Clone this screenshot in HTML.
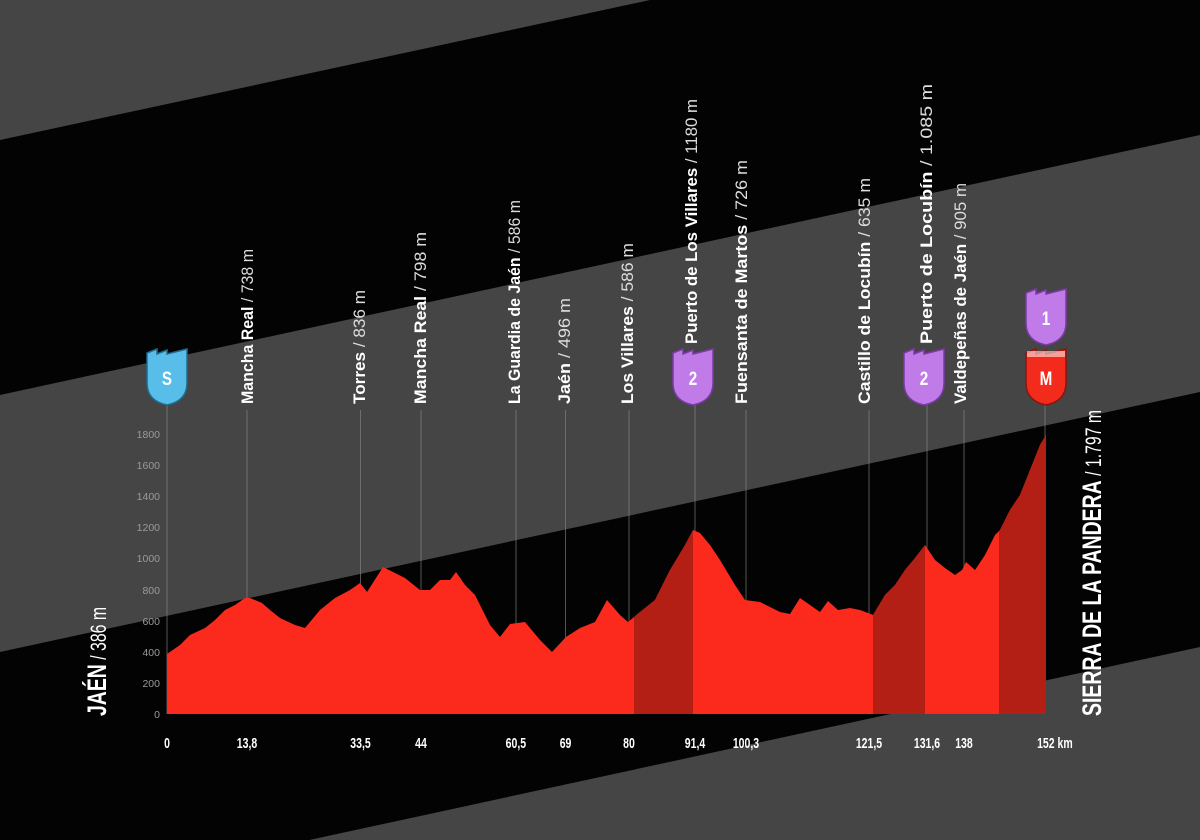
<!DOCTYPE html>
<html><head><meta charset="utf-8"><style>
html,body{margin:0;padding:0;background:#000;width:1200px;height:840px;overflow:hidden;}
svg{display:block}
text{font-family:"Liberation Sans",sans-serif;}
</style></head><body>
<svg width="1200" height="840" viewBox="0 0 1200 840" xmlns="http://www.w3.org/2000/svg">
<rect width="1200" height="840" fill="#030303"/>
<polygon points="0,0 650,0 0,140" fill="#454545"/>
<polygon points="0,395 1200,135 1200,392 0,652" fill="#454545"/>
<polygon points="0,907 1200,647 1200,840 0,840" fill="#454545"/>

<g stroke="#8a8a8a" stroke-width="1" opacity="0.6">
<line x1="167" y1="405" x2="167" y2="714"/>
<line x1="247" y1="410" x2="247" y2="714"/>
<line x1="360.5" y1="410" x2="360.5" y2="714"/>
<line x1="421" y1="410" x2="421" y2="714"/>
<line x1="516" y1="410" x2="516" y2="714"/>
<line x1="565.5" y1="410" x2="565.5" y2="714"/>
<line x1="629" y1="410" x2="629" y2="714"/>
<line x1="695" y1="405" x2="695" y2="714"/>
<line x1="746" y1="410" x2="746" y2="714"/>
<line x1="869" y1="410" x2="869" y2="714"/>
<line x1="927" y1="405" x2="927" y2="714"/>
<line x1="964" y1="410" x2="964" y2="714"/>
<line x1="1045" y1="405" x2="1045" y2="714"/>
</g>

<defs>
<clipPath id="prof">
<polygon points="167,714 167,654 180,645 190,635 205,628 215,620 225,610 235,605 245,598 250,598 262,603 270,610 280,618 295,625 305,628 320,610 335,598 350,590 360,583 367,592 383,567 395,573 405,578 420,590 430,590 440,580 450,580 456,572 465,585 475,595 490,625 500,637 510,624 525,622 540,640 552,652 566,637 580,628 595,622 607,600 620,615 628,622 640,612 655,600 670,570 685,545 693,530 700,533 710,545 720,560 735,585 745,600 760,602 770,607 780,612 790,614 800,598 810,605 820,612 828,601 838,610 850,608 860,610 868,613 873,615 885,595 895,585 905,570 915,558 925,545 935,560 945,568 955,575 962,570 966,562 975,570 985,555 995,535 1000,530 1010,510 1020,495 1030,470 1040,445 1046,435 1046,714"/>
</clipPath>
</defs>
<g clip-path="url(#prof)">
<rect x="160" y="420" width="900" height="300" fill="#fb2a1c"/>
<rect x="634" y="420" width="59" height="300" fill="#b31f14"/>
<rect x="873" y="420" width="52" height="300" fill="#b31f14"/>
<rect x="999" y="420" width="47" height="300" fill="#b31f14"/>
</g>

<g font-size="10.5" fill="#9a9a9a" text-anchor="end">
<text x="160" y="718">0</text>
<text x="160" y="687">200</text>
<text x="160" y="656">400</text>
<text x="160" y="625">600</text>
<text x="160" y="594">800</text>
<text x="160" y="562">1000</text>
<text x="160" y="531">1200</text>
<text x="160" y="500">1400</text>
<text x="160" y="469">1600</text>
<text x="160" y="438">1800</text>
</g>

<g font-size="15" font-weight="bold" fill="#fff" text-anchor="middle">
<g transform="scale(0.7,1)">
<text x="238.6" y="748">0</text>
<text x="352.9" y="748">13,8</text>
<text x="515" y="748">33,5</text>
<text x="601.4" y="748">44</text>
<text x="737" y="748">60,5</text>
<text x="807.9" y="748">69</text>
<text x="898.6" y="748">80</text>
<text x="992.9" y="748">91,4</text>
<text x="1065.7" y="748">100,3</text>
<text x="1241.4" y="748">121,5</text>
<text x="1324.3" y="748">131,6</text>
<text x="1377.1" y="748">138</text>
<text x="1507" y="748">152 km</text>
</g>
</g>

<g fill="#fff">
<text transform="translate(106,716) rotate(-90) scale(0.72,1)" font-size="27" font-weight="bold">JAÉN<tspan font-weight="normal" font-size="22"> / 386 m</tspan></text>
<text transform="translate(1101,716) rotate(-90) scale(0.72,1)" font-size="27" font-weight="bold">SIERRA DE LA PANDERA<tspan font-weight="normal" font-size="22"> / 1.797 m</tspan></text>
</g>

<g font-size="16.5" font-weight="bold" fill="#fff">
<text transform="translate(253,404) rotate(-90)" textLength="155" lengthAdjust="spacingAndGlyphs">Mancha Real<tspan font-weight="normal" fill="#ddd"> / 738 m</tspan></text>
<text transform="translate(365,404) rotate(-90)" textLength="114" lengthAdjust="spacingAndGlyphs">Torres<tspan font-weight="normal" fill="#ddd"> / 836 m</tspan></text>
<text transform="translate(426,404) rotate(-90)" textLength="172" lengthAdjust="spacingAndGlyphs">Mancha Real<tspan font-weight="normal" fill="#ddd"> / 798 m</tspan></text>
<text transform="translate(520,404) rotate(-90)" textLength="204" lengthAdjust="spacingAndGlyphs">La Guardia de Jaén<tspan font-weight="normal" fill="#ddd"> / 586 m</tspan></text>
<text transform="translate(570,404) rotate(-90)" textLength="106" lengthAdjust="spacingAndGlyphs">Jaén<tspan font-weight="normal" fill="#ddd"> / 496 m</tspan></text>
<text transform="translate(633,404) rotate(-90)" textLength="161" lengthAdjust="spacingAndGlyphs">Los Villares<tspan font-weight="normal" fill="#ddd"> / 586 m</tspan></text>
<text transform="translate(697,344) rotate(-90)" textLength="245" lengthAdjust="spacingAndGlyphs">Puerto de Los Villares<tspan font-weight="normal" fill="#ddd"> / 1180 m</tspan></text>
<text transform="translate(747,404) rotate(-90)" textLength="244" lengthAdjust="spacingAndGlyphs">Fuensanta de Martos<tspan font-weight="normal" fill="#ddd"> / 726 m</tspan></text>
<text transform="translate(870,404) rotate(-90)" textLength="226" lengthAdjust="spacingAndGlyphs">Castillo de Locubín<tspan font-weight="normal" fill="#ddd"> / 635 m</tspan></text>
<text transform="translate(932,344) rotate(-90)" textLength="260" lengthAdjust="spacingAndGlyphs">Puerto de Locubín<tspan font-weight="normal" fill="#ddd"> / 1.085 m</tspan></text>
<text transform="translate(966,404) rotate(-90)" textLength="221" lengthAdjust="spacingAndGlyphs">Valdepeñas de Jaén<tspan font-weight="normal" fill="#ddd"> / 905 m</tspan></text>
</g>

<defs>
<path id="badge" d="M-20,-44 L-10,-48 L-10,-43 L0,-47 L0,-43 L20,-48 L20,-14 Q20,4 0,8 Q-20,4 -20,-14 Z"/>
</defs>
<g transform="translate(167,397)"><use href="#badge" fill="#58bde8" stroke="#1d6d90" stroke-width="1.5"/>
<text x="0" y="-12" font-size="19" font-weight="bold" fill="#fff" text-anchor="middle" transform="scale(0.8,1)">S</text></g>
<g transform="translate(693,397)"><use href="#badge" fill="#c07be8" stroke="#7b3aa8" stroke-width="1.5"/>
<text x="0" y="-12" font-size="19" font-weight="bold" fill="#fff" text-anchor="middle" transform="scale(0.8,1)">2</text></g>
<g transform="translate(924,397)"><use href="#badge" fill="#c07be8" stroke="#7b3aa8" stroke-width="1.5"/>
<text x="0" y="-12" font-size="19" font-weight="bold" fill="#fff" text-anchor="middle" transform="scale(0.8,1)">2</text></g>
<g transform="translate(1046,337)"><use href="#badge" fill="#c07be8" stroke="#7b3aa8" stroke-width="1.5"/>
<text x="0" y="-12" font-size="19" font-weight="bold" fill="#fff" text-anchor="middle" transform="scale(0.8,1)">1</text></g>
<g transform="translate(1046,397)"><use href="#badge" fill="#f22b1d" stroke="#8c150d" stroke-width="1.5"/>
<rect x="-19" y="-46" width="38" height="6" fill="#fff" opacity="0.55"/>
<text x="0" y="-12" font-size="19" font-weight="bold" fill="#fff" text-anchor="middle" transform="scale(0.8,1)">M</text></g>
</svg>
</body></html>
